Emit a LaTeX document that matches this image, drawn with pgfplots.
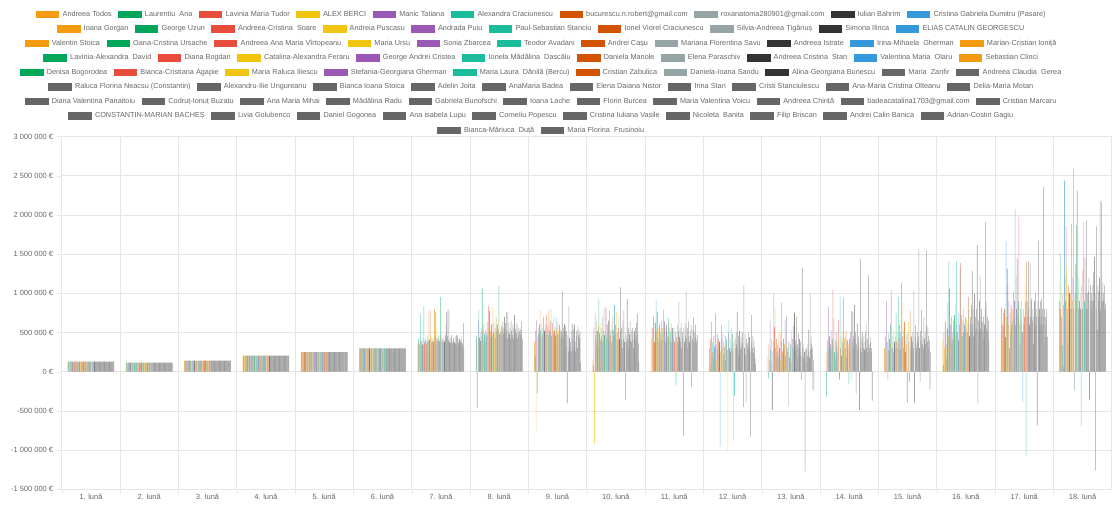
\documentclass[border=0pt]{standalone}
\usepackage{fontspec}
\setmainfont{Liberation Sans}
\usepackage{pgfplots}
\usepackage{pgfplotstable}
\pgfplotsset{compat=1.18}
\definecolor{c0}{HTML}{F39C12}
\definecolor{c1}{HTML}{00A65A}
\definecolor{c2}{HTML}{E74C3C}
\definecolor{c3}{HTML}{F1C40F}
\definecolor{c4}{HTML}{9B59B6}
\definecolor{c5}{HTML}{1ABC9C}
\definecolor{c6}{HTML}{D35400}
\definecolor{c7}{HTML}{95A5A6}
\definecolor{c8}{HTML}{333333}
\definecolor{c9}{HTML}{3498DB}
\definecolor{c10}{HTML}{666666}
\definecolor{tc}{HTML}{666666}
\definecolor{gl}{HTML}{E6E6E6}
\newcommand\ds{\ \ }
\newcommand\LE[2]{\addlegendimage{#1}\addlegendentry{#2}}
\pgfplotsset{legrow/.style={hide axis, scale only axis, width=1pt, height=1pt,
  xmin=0, xmax=1, ymin=0, ymax=1, anchor=center, legend columns=#1,
  legend image code/.code={\fill[##1] (0pt,-3.1pt) rectangle (22.5pt,3.1pt);},
  legend style={at={(0.5,0.5)}, anchor=center, draw=none, fill=none,
    font=\fontsize{7.3}{8.5}\selectfont, text=tc, column sep=3.3pt,
    /tikz/every even column/.append style={column sep=6pt},
    nodes={inner sep=0.5pt}}}}
% values in thousands of euro; rows = months, columns = 84 series
\pgfplotstableread[header=false]{
1 130 130 130 130 130 130 130 130 130 130 130 130 130 130 130 130 130 130 130 130 130 130 130 130 130 130 130 130 130 130 130 130 130 130 130 130 130 130 130 130 130 130 130 130 130 130 130 130 130 130 130 130 130 130 130 130 130 130 130 130 130 130 130 130 130 130 130 130 130 130 130 130 130 130 130 130 130 130 130 130 130 130 130 130
2 115 115 115 115 115 115 115 115 115 115 115 115 115 115 115 115 115 115 115 115 115 115 115 115 115 115 115 115 115 115 115 115 115 115 115 115 115 115 115 115 115 115 115 115 115 115 115 115 115 115 115 115 115 115 115 115 115 115 115 115 115 115 115 115 115 115 115 115 115 115 115 115 115 115 115 115 115 115 115 115 115 115 115 115
3 140 140 140 140 140 140 140 140 140 140 140 140 140 140 140 140 140 140 140 140 140 140 140 140 140 140 140 140 140 140 140 140 140 140 140 140 140 140 140 140 140 140 140 140 140 140 140 140 140 140 140 140 140 140 140 140 140 140 140 140 140 140 140 140 140 140 140 140 140 140 140 140 140 140 140 140 140 140 140 140 140 140 140 140
4 205 205 205 205 205 205 205 205 205 205 205 205 205 205 205 205 205 205 205 205 205 205 205 205 205 205 205 205 205 205 205 205 205 205 205 205 205 205 205 205 205 205 205 205 205 205 205 205 205 205 205 205 205 205 205 205 205 205 205 205 205 205 205 205 205 205 205 205 205 205 205 205 205 205 205 205 205 205 205 205 205 205 205 205
5 250 250 250 250 250 250 250 250 250 250 250 250 250 250 250 250 250 250 250 250 250 250 250 250 250 250 250 250 250 250 250 250 250 250 250 250 250 250 250 250 250 250 250 250 250 250 250 250 250 250 250 250 250 250 250 250 250 250 250 250 250 250 250 250 250 250 250 250 250 250 250 250 250 250 250 250 250 250 250 250 250 250 250 250
6 298 298 298 298 298 298 298 298 298 298 298 298 298 298 298 298 298 298 298 298 298 298 298 298 298 298 298 298 298 298 298 298 298 298 298 298 298 298 298 298 298 298 298 298 298 298 298 298 298 298 298 298 298 298 298 298 298 298 298 298 298 298 298 298 298 298 298 298 298 298 298 298 298 298 298 298 298 298 298 298 298 298 298 298
7 360 420 370 350 390 740 380 400 350 430 340 835 380 360 420 390 350 450 380 400 780 410 790 460 430 370 390 440 380 420 800 450 760 570 400 430 380 470 420 390 450 955 380 490 420 370 400 450 380 420 470 600 760 450 780 400 790 380 430 360 420 470 380 350 430 400 370 450 360 340 470 460 430 380 350 420 360 400 450 380 360 340 615 300
8 420 460 -466 380 650 785 430 500 390 560 450 1060 520 400 610 480 380 540 450 500 640 470 835 560 780 430 520 470 600 450 825 500 620 480 560 430 700 520 600 470 540 1094 480 620 500 450 580 520 640 480 560 700 480 620 540 760 430 760 500 620 480 560 420 650 520 470 600 420 560 720 480 540 620 500 430 600 480 560 520 460 540 480 640 420
9 380 200 520 -755 657 -270 450 560 480 600 785 520 430 620 480 560 700 450 520 610 560 480 720 540 600 470 780 530 650 500 805 460 620 540 480 700 520 580 450 690 560 480 640 520 470 600 500 540 430 520 1026 480 560 420 610 500 580 330 520 -400 470 260 835 430 300 380 520 260 610 420 540 290 600 380 260 450 520 300 580 470 540 430 500 120
10 150 80 560 -925 750 470 380 640 520 300 580 920 490 620 400 560 450 700 380 520 800 470 825 520 815 430 600 480 650 400 780 520 460 600 380 540 700 450 520 850 480 600 420 760 500 380 560 700 420 520 1080 400 560 300 650 420 780 380 500 -360 460 380 925 420 560 300 480 640 400 520 380 560 420 300 480 520 400 560 440 620 740 480 360 120
11 420 -10 560 480 708 640 380 500 620 920 520 760 440 560 380 600 470 520 400 650 560 480 793 420 640 560 380 500 600 450 520 680 440 560 400 500 620 380 560 470 420 560 380 -150 500 -180 440 600 380 520 890 440 560 380 620 300 500 420 -820 560 380 620 460 1026 420 560 300 640 450 380 520 460 600 -190 420 540 690 380 500 440 600 420 380 470
12 300 85 420 200 635 380 250 170 460 320 280 740 350 150 480 300 420 220 380 -955 260 400 595 300 480 220 380 320 150 460 350 420 280 -1000 500 650 300 420 260 560 320 480 280 -890 380 -305 420 300 500 350 763 300 460 200 520 380 280 440 320 500 360 -450 1100 300 480 220 -390 420 360 280 500 320 440 260 -830 380 720 300 460 240 400 320 180 100
13 200 -85 350 150 665 280 127 420 -490 255 380 1005 572 805 300 180 420 250 350 200 480 300 488 150 380 878 260 233 420 300 350 665 200 420 708 300 250 -437 380 180 233 350 120 530 420 300 580 250 750 320 400 280 700 350 180 488 300 420 250 380 200 -106 1327 300 180 350 250 -1272 280 120 300 200 350 538 250 180 996 280 445 350 300 -220 150 -250
14 250 -318 400 180 827 300 450 106 350 530 280 420 1047 350 678 250 400 180 500 320 380 250 657 420 -97 962 300 450 200 380 500 945 280 420 445 300 520 180 400 275 350 -157 420 300 500 -106 772 380 763 450 300 848 420 500 -284 350 615 280 450 380 -488 300 1441 420 250 500 360 300 450 280 380 500 615 300 420 250 1230 350 300 445 380 250 300 -369
15 300 -20 450 250 899 380 -97 500 275 420 350 600 1047 962 300 450 250 520 380 300 450 750 380 500 300 954 420 600 280 500 380 1136 450 890 300 520 636 400 250 480 350 -394 500 644 380 -127 784 300 450 445 380 500 300 1038 -390 450 600 350 297 500 380 450 1568 300 -127 520 400 784 350 450 300 700 420 500 350 600 1547 380 572 450 300 400 -220 250
16 400 85 500 300 623 650 350 170 550 882 450 1412 1060 458 600 380 700 500 420 650 550 720 480 870 600 1412 500 680 400 750 600 1314 1386 500 720 450 650 806 500 600 480 700 550 678 500 620 954 784 450 600 700 500 850 1285 600 450 800 996 500 700 550 800 1616 -403 650 500 900 1217 550 700 800 636 500 700 424 600 800 1908 890 550 700 500 650 400
17 500 818 600 400 750 572 800 450 445 1666 700 1314 1124 600 900 297 750 500 850 600 800 650 1026 700 900 2078 600 1230 800 1442 700 900 1972 600 352 800 650 900 500 -382 800 600 700 1115 890 -1073 1399 700 900 1412 800 600 1380 700 900 933 650 800 352 700 900 600 1005 800 700 -687 900 1666 700 800 600 900 700 933 800 600 2362 700 800 445 700 600 800 445
18 900 1505 800 1100 700 339 1000 64 850 2438 1200 900 1853 1336 800 369 1100 700 1000 800 1000 800 1887 900 1200 2586 800 -233 1000 1370 900 1866 2311 1000 806 1200 900 1000 800 -691 1100 800 1300 1463 1908 900 1454 1000 800 1929 1000 800 1018 1200 -352 900 1100 800 1000 900 1100 1272 900 1463 1000 -1259 800 1853 538 1100 1018 900 1200 2184 800 1000 2162 900 1145 1000 900 1100 800 869
}\data
\begin{document}
\begin{tikzpicture}
\path[use as bounding box] (0,0) rectangle (1112pt,506pt);
\begin{axis}[
  scale only axis, width=1050pt, height=352.8pt,
  at={(61.7pt,16.7pt)}, anchor=south west,
  xmin=0.5, xmax=18.5, ymin=-1500, ymax=3000,
  axis line style={gl},
  xtick={0.5,1.5,...,18.5}, xticklabels={},
  extra x ticks={1,...,18},
  extra x tick labels={1. lună,2. lună,3. lună,4. lună,5. lună,6. lună,7. lună,8. lună,9. lună,10. lună,11. lună,12. lună,13. lună,14. lună,15. lună,16. lună,17. lună,18. lună},
  extra x tick style={grid=none, major tick length=0pt},
  xmajorgrids, ymajorgrids,
  major grid style={gl},
  ytick={-1500,-1000,-500,0,500,1000,1500,2000,2500,3000},
  yticklabels={-1 500 000 €,-1 000 000 €,-500 000 €,0 €,500 000 €,1 000 000 €,1 500 000 €,2 000 000 €,2 500 000 €,3 000 000 €},
  tick align=outside, major tick length=5pt,
  xtick pos=bottom, ytick pos=left,
  tick style={gl},
  tick label style={font=\fontsize{7.5}{9}\selectfont, text=tc},
  xticklabel style={yshift=-1pt},
]
\pgfplotsinvokeforeach{0,...,83}{
  \pgfmathtruncatemacro{\ci}{#1<49 ? mod(#1,10) : 10}
  \pgfmathsetmacro{\bs}{(#1-41.5)*0.0095238}
  \edef\tmp{\noexpand\addplot[ybar, bar width=0.0095238, bar shift=\bs, fill=c\ci, fill opacity=0.6, draw=none] table[x index=0, y index=\the\numexpr#1+1\relax] {\noexpand\data};}
  \tmp
}
\end{axis}
\begin{axis}[legrow=10, at={(541pt,491.7pt)}]
\LE{c0}{Andreea Todos}\LE{c1}{Laurentiu\ds Ana}\LE{c2}{Lavinia Maria Tudor}\LE{c3}{ALEX BERCI}\LE{c4}{Manic Tatiana}\LE{c5}{Alexandra Craciunescu}\LE{c6}{bucurescu.n.robert@gmail.com}\LE{c7}{roxanatoma280901@gmail.com}\LE{c8}{Iulian Bahrim}\LE{c9}{Cristina Gabriela Dumitru (Pasare)}
\end{axis}
\begin{axis}[legrow=10, at={(541pt,477.2pt)}]
\LE{c0}{Ioana Gorgan}\LE{c1}{George Uzun}\LE{c2}{Andreea-Cristina\ds Soare}\LE{c3}{Andreia Puscasu}\LE{c4}{Andrada Puiu}\LE{c5}{Paul-Sebastian Stanciu}\LE{c6}{Ionel Viorel Craciunescu}\LE{c7}{Silvia-Andreea Țigănuș}\LE{c8}{Simona Ilinca}\LE{c9}{ELIAS CATALIN GEORGESCU}
\end{axis}
\begin{axis}[legrow=11, at={(541pt,462.7pt)}]
\LE{c0}{Valentin Stoica}\LE{c1}{Oana-Cristina Ursache}\LE{c2}{Andreea Ana Maria Vîrtopeanu}\LE{c3}{Maria Ursu}\LE{c4}{Sonia Zbarcea}\LE{c5}{Teodor Avadani}\LE{c6}{Andrei Cașu}\LE{c7}{Mariana Florentina Savu}\LE{c8}{Andreea Istrate}\LE{c9}{Irina-Mihaela\ds Gherman}\LE{c0}{Marian-Cristian Ioniță}
\end{axis}
\begin{axis}[legrow=10, at={(541pt,448.2pt)}]
\LE{c1}{Lavinia-Alexandra\ds David}\LE{c2}{Diana Bogdan}\LE{c3}{Catalina-Alexandra Feraru}\LE{c4}{George Andrei Cristea}\LE{c5}{Ionela Mădălina\ds Dascălu}\LE{c6}{Daniela Manole}\LE{c7}{Elena Paraschiv}\LE{c8}{Andreea Cristina\ds Stan}\LE{c9}{Valentina Maria\ds Olaru}\LE{c0}{Sebastian Clinci}
\end{axis}
\begin{axis}[legrow=10, at={(541pt,433.7pt)}]
\LE{c1}{Denisa Bogorodea}\LE{c2}{Bianca-Cristiana Agapie}\LE{c3}{Maria Raluca Iliescu}\LE{c4}{Stefania-Georgiana Gherman}\LE{c5}{Maria Laura\ds Dănilă (Bercu)}\LE{c6}{Cristian Zabulica}\LE{c7}{Daniela-Ioana Sandu}\LE{c8}{Alina-Georgiana Bunescu}\LE{c10}{Maria\ds Zanfir}\LE{c10}{Andreea Claudia\ds Gerea}
\end{axis}
\begin{axis}[legrow=10, at={(541pt,419.2pt)}]
\LE{c10}{Raluca Florina Neacsu (Constantin)}\LE{c10}{Alexandru-Ilie Ungureanu}\LE{c10}{Bianca Ioana Stoica}\LE{c10}{Adelin Joita}\LE{c10}{AnaMaria Badea}\LE{c10}{Elena Daiana Nistor}\LE{c10}{Irina Stan}\LE{c10}{Cristi Stanciulescu}\LE{c10}{Ana-Maria Cristina Olteanu}\LE{c10}{Delia-Maria Motan}
\end{axis}
\begin{axis}[legrow=11, at={(541pt,404.7pt)}]
\LE{c10}{Diana Valentina Panaitoiu}\LE{c10}{Codruț-Ionuț Buzatu}\LE{c10}{Ana Maria Mihai}\LE{c10}{Mădălina Radu}\LE{c10}{Gabriela Bunofschi}\LE{c10}{Ioana Lache}\LE{c10}{Florin Burcea}\LE{c10}{Maria Valentina Voicu}\LE{c10}{Andreea Chiriță}\LE{c10}{badeacatalina1703@gmail.com}\LE{c10}{Cristian Marcaru}
\end{axis}
\begin{axis}[legrow=10, at={(541pt,390.2pt)}]
\LE{c10}{CONSTANTIN-MARIAN BACHEȘ}\LE{c10}{Livia Golubenco}\LE{c10}{Daniel Gogonea}\LE{c10}{Ana isabela Lupu}\LE{c10}{Corneliu Popescu}\LE{c10}{Cristina Iuliana Vasile}\LE{c10}{Nicoleta\ds Banita}\LE{c10}{Filip Briscan}\LE{c10}{Andrei Calin Banica}\LE{c10}{Adrian-Costin Gagiu}
\end{axis}
\begin{axis}[legrow=2, at={(541pt,375.7pt)}]
\LE{c10}{Bianca-Măriuca\ds Duță}\LE{c10}{Maria Florina\ds Frusinoiu}
\end{axis}
\end{tikzpicture}
\end{document}
